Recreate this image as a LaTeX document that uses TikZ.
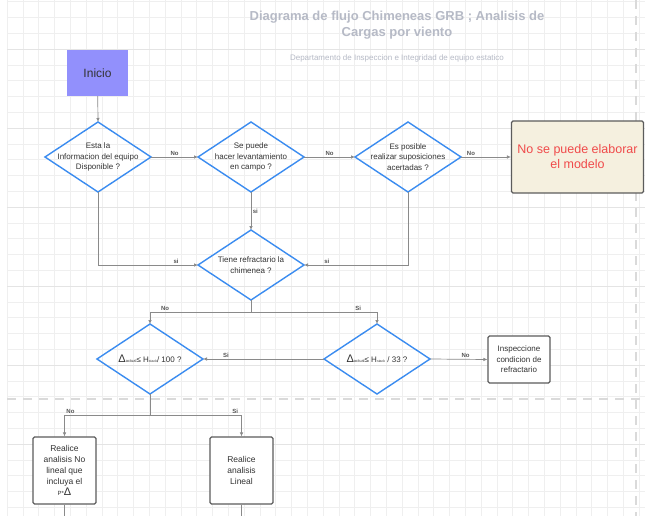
\documentclass[tikz,border=0pt]{standalone}
\usepackage{fontspec}
\setmainfont{Liberation Sans}
\usetikzlibrary{shapes.geometric,arrows.meta}
\definecolor{gridminor}{HTML}{EFEFEF}
\definecolor{gridmajor}{HTML}{E4E4E4}
\definecolor{diablue}{HTML}{3B8CF0}
\definecolor{conngray}{HTML}{8A8A8A}
\definecolor{lblgray}{HTML}{555555}
\definecolor{txtgray}{HTML}{333333}
\definecolor{boxgray}{HTML}{5C5C5C}
\definecolor{iniciofill}{HTML}{9290FC}
\definecolor{creamfill}{HTML}{F5F0DF}
\definecolor{errred}{HTML}{F04B4B}
\definecolor{titlegray}{HTML}{B6BAC6}
\definecolor{dashgray}{HTML}{DADADA}
\begin{document}
\begin{tikzpicture}[x=1pt,y=-1pt,
    >={Latex[length=4pt,width=3.5pt]},
    decision/.style={diamond,draw=diablue,line width=1.4pt,minimum width=106pt,
      minimum height=70pt,inner sep=0pt,outer sep=0pt},
    dtext/.style={align=center,font=\fontsize{8}{10.5}\selectfont,text=txtgray},
    procbox/.style={rectangle,draw=boxgray,line width=1.1pt,rounded corners=1.5pt,
      fill=white,align=center,font=\fontsize{8.5}{11}\selectfont,text=txtgray,inner sep=2pt},
    conn/.style={draw=conngray,line width=0.7pt},
    lbl/.style={font=\fontsize{6}{7}\selectfont\bfseries,text=lblgray,inner sep=1.5pt},
    gridline/.style={gridminor,line width=0.5pt},
    pagedash/.style={dashgray,line width=2pt,dash pattern=on 9pt off 7pt}]
  \useasboundingbox (0,0) rectangle (645,516);
  \fill[white] (0,0) rectangle (645,516);
  % background grid
  \foreach \k in {0,...,40}
    \draw[gridline] ({7+15.8*\k},0) -- ({7+15.8*\k},516);
  \foreach \k in {0,...,32}
    \draw[gridline] (7,{1.6+15.8*\k}) -- (645,{1.6+15.8*\k});
  \foreach \k in {0,...,6}
    \draw[gridmajor,line width=0.6pt] (7,{49+79*\k}) -- (645,{49+79*\k});
  \draw[pagedash] (7,399) -- (645,399);
  \draw[pagedash] (636,0) -- (636,516);
  % titles
  \node[align=center,font=\fontsize{13}{16}\selectfont\bfseries,text=titlegray] (ttl) at (397,25)
    {Diagrama de flujo Chimeneas GRB ; Analisis de\\Cargas por viento};
  \draw[gridmajor,line width=0.9pt] (274,49) -- (520,49);
  \node[font=\fontsize{8}{10}\selectfont,text=titlegray] (sub) at (397,58)
    {Departamento de Inspeccion e Integridad de equipo estatico};
  % start
  \node[fill=iniciofill,minimum width=61pt,minimum height=46pt,inner sep=0pt,
    font=\fontsize{12}{14}\selectfont,text=txtgray] (ini) at (97.5,73) {Inicio};
  % first row of questions
  \node[decision,label={[dtext]center:Esta la\\Informacion del equipo\\Disponible ?}] (d1) at (98,157) {};
  \node[decision,label={[dtext]center:Se puede\\hacer levantamiento\\en campo ?}] (d2) at (251,157) {};
  \node[decision,label={[dtext]center:Es posible\\realizar suposiciones\\acertadas ?}] (d3) at (408,157) {};
  \node[rectangle,draw=boxgray,line width=1.1pt,rounded corners=1.5pt,fill=creamfill,
    minimum width=132pt,minimum height=72pt,align=center,
    font=\fontsize{12.5}{15}\selectfont,text=errred] (nomod) at (577.5,157)
    {No se puede elaborar\\el modelo};
  % refractory question
  \node[decision,label={[dtext]center:Tiene refractario la\\chimenea ?}] (d4) at (251,265) {};
  % deflection checks
  \node[decision,label={[dtext]center:{\fontsize{11}{11}\selectfont Δ}{\fontsize{4}{4}\selectfont actual}≤ H{\fontsize{3.5}{4}\selectfont stack}/ 100 ?}] (d5) at (150,359) {};
  \node[decision,label={[dtext]center:{\fontsize{11}{11}\selectfont Δ}{\fontsize{4}{4}\selectfont actual}≤ H{\fontsize{3.5}{4}\selectfont stack} / 33 ?}] (d6) at (377,359) {};
  \node[procbox,minimum width=62pt,minimum height=47pt,font=\fontsize{8}{10.5}\selectfont] (insp) at (519,359.5)
    {Inspeccione\\condicion de\\refractario};
  % analysis boxes
  \node[procbox,minimum width=63pt,minimum height=67pt] (nolin) at (64.5,470.5)
    {Realice\\analisis No\\lineal que\\incluya el\\{\fontsize{6}{6}\selectfont P*}{\fontsize{11}{11}\selectfont Δ}};
  \node[procbox,minimum width=63pt,minimum height=67pt] (lin) at (241.5,470.5)
    {Realice\\analisis\\Lineal};
  \coordinate (s1) at (251,312);
  \coordinate (s2) at (150,415);
  \coordinate (nolinend) at (64.5,516);
  \coordinate (linend) at (241.5,516);
  % connectors
  \draw[conn,->] (ini) -- (d1.north);
  \draw[conn,->] (d1.east) -- node[lbl,above] {No} (d2.west);
  \draw[conn,->] (d2.east) -- node[lbl,above] {No} (d3.west);
  \draw[conn,->] (d3.east) -- node[lbl,above,pos=0.2] {No} (nomod.west);
  \draw[conn,->] (d2.south) -- node[lbl,right] {si} (d4.north);
  \draw[conn,->] (d1.south) |- node[lbl,above,pos=0.89] {si} (d4.west);
  \draw[conn,->] (d3.south) |- node[lbl,above,pos=0.89] {si} (d4.east);
  \draw[conn] (d4.south) -- (s1);
  \draw[conn,->] (s1) -| node[lbl,above,pos=0.425] {No} (d5.north);
  \draw[conn,->] (s1) -| node[lbl,above,pos=0.425] {Si} (d6.north);
  \draw[conn,->] (d6.west) -- node[lbl,above,pos=0.81] {Si} (d5.east);
  \draw[conn,->] (d6.east) -- node[lbl,above,pos=0.62] {No} (insp.west);
  \draw[conn] (d5.south) -- (s2);
  \draw[conn,->] (s2) -| node[lbl,above,pos=0.465] {No} (nolin.north);
  \draw[conn,->] (s2) -| node[lbl,above,pos=0.465] {Si} (lin.north);
  \draw[conn] (nolin.south) -- (nolinend);
  \draw[conn] (lin.south) -- (linend);
\end{tikzpicture}
\end{document}
